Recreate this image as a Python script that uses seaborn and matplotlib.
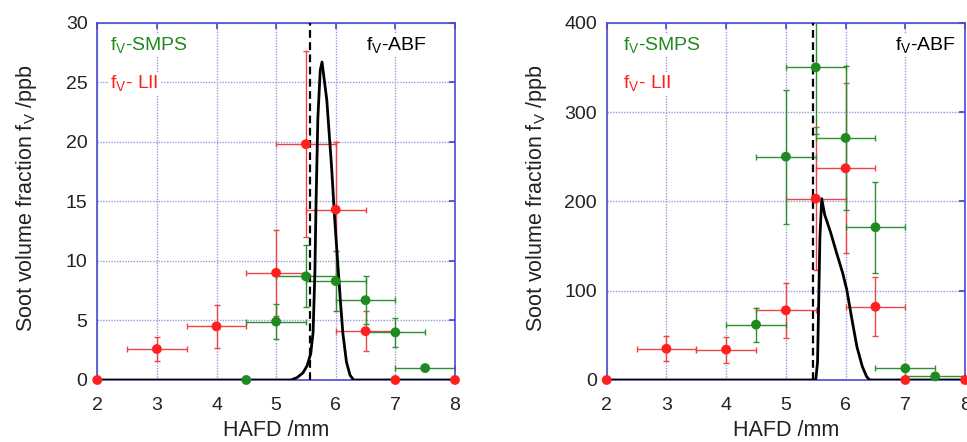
import matplotlib
matplotlib.use("Agg")
import matplotlib.pyplot as plt
import seaborn as sns
import numpy as np

# ---------------- data ----------------
# left panel
l_smps_x = [4.5, 5.0, 5.5, 6.0, 6.5, 7.0, 7.5]
l_smps_y = [0, 4.9, 8.7, 8.3, 6.7, 4.0, 1.0]
l_smps_yerr = [0, 1.5, 2.6, 2.5, 2.0, 1.2, 0]
l_smps_xerr = [0, 0.5, 0.5, 0.5, 0.5, 0.5, 0.5]

l_lii_x = [2, 3, 4, 5, 5.5, 6, 6.5, 7, 8]
l_lii_y = [0, 2.6, 4.5, 9.0, 19.8, 14.3, 4.1, 0, 0]
l_lii_yerr = [0, 1.0, 1.8, 3.6, 7.8, 5.7, 1.7, 0, 0]
l_lii_xerr = [0, 0.5, 0.5, 0.5, 0.5, 0.5, 0.5, 0, 0]

l_abf_x = [2.0, 5.25, 5.35, 5.45, 5.52, 5.58, 5.62, 5.65, 5.67, 5.70, 5.74, 5.77,
           5.80, 5.85, 5.93, 5.98, 6.02, 6.08, 6.12, 6.18, 6.24, 6.30, 8.0]
l_abf_y = [0, 0, 0.2, 0.6, 1.2, 2.2, 4.0, 9.0, 15.0, 22.0, 26.0, 26.7,
           25.5, 23.5, 17.9, 13.7, 10.8, 6.5, 3.9, 1.5, 0.4, 0, 0]
l_dash_x = 5.57

# right panel
r_smps_x = [4.5, 5.0, 5.5, 6.0, 6.5, 7.0, 7.5]
r_smps_y = [62, 250, 350, 271, 171, 13, 4]
r_smps_yerr = [19, 75, 75, 81, 51, 0, 0]
r_smps_xerr = [0.5, 0.5, 0.5, 0.5, 0.5, 0.5, 0.5]

r_lii_x = [2, 3, 4, 5, 5.5, 6, 6.5, 7, 8]
r_lii_y = [0, 35, 34, 78, 203, 237, 82, 0, 0]
r_lii_yerr = [0, 14, 14.5, 31, 80, 95, 33, 0, 0]
r_lii_xerr = [0, 0.5, 0.5, 0.5, 0.5, 0.5, 0.5, 0, 0]

r_abf_x = [2.0, 5.5, 5.53, 5.55, 5.57, 5.60, 5.65, 5.75, 5.85, 5.95, 6.02,
           6.10, 6.19, 6.28, 6.35, 6.40, 8.0]
r_abf_y = [0, 0, 20, 90, 160, 203, 185, 165, 142, 120, 101,
           70, 37, 15, 4, 0, 0]
r_dash_x = 5.46

xticks = [2, 3, 4, 5, 6, 7, 8]
l_yticks = [0, 5, 10, 15, 20, 25, 30]
r_yticks = [0, 100, 200, 300, 400]

# ---------------- style ----------------
sns.set_theme(style="white")
plt.rcParams["font.family"] = ["Liberation Sans", "DejaVu Sans"]
plt.rcParams["mathtext.default"] = "regular"

GREEN = "#1f8a1f"
RED = "#ff1f1f"
SPINE = "#4a4ad0"
GRID = "#9a9ae0"

fig = plt.figure(figsize=(9.67, 4.42), dpi=100)
axL = fig.add_axes([0.1006, 0.1403, 0.3699, 0.8083])
axR = fig.add_axes([0.6274, 0.1403, 0.3706, 0.8083])


def panel(ax, smps, lii, abf, dash_x, yticks, ymax, txt):
    sx, sy, syerr, sxerr = smps
    lx, ly, lyerr, lxerr = lii
    ax.set_xlim(2, 8)
    ax.set_ylim(0, ymax)
    ax.set_xticks(xticks)
    ax.set_yticks(yticks)
    ax.grid(True, color=GRID, linestyle=(0, (1, 1)), linewidth=1.0)
    ax.set_axisbelow(True)
    for s in ax.spines.values():
        s.set_color(SPINE)
        s.set_linewidth(1.2)
    ax.tick_params(direction="in", length=4, color=SPINE, top=True, right=True,
                   labelsize=14, labelcolor="#222222")
    ax.tick_params(axis="x", pad=12)
    ax.tick_params(axis="y", pad=7)

    ax.errorbar(lx, ly, yerr=lyerr, xerr=lxerr, fmt="none", ecolor="#ee4444",
                elinewidth=1.0, capsize=2.5, capthick=1.0, zorder=2)
    ax.errorbar(sx, sy, yerr=syerr, xerr=sxerr, fmt="none", ecolor="#2e8f2e",
                elinewidth=1.0, capsize=2.5, capthick=1.0, zorder=2)
    ax.axvline(dash_x, color="black", linestyle=(0, (3.5, 2)), linewidth=1.6, zorder=3)
    sns.lineplot(x=abf[0], y=abf[1], ax=ax, color="black", linewidth=2.0,
                 sort=False, estimator=None, zorder=4)
    sns.scatterplot(x=lx, y=ly, ax=ax, color=RED, s=50, edgecolor="none",
                    clip_on=False, zorder=6)
    sns.scatterplot(x=sx, y=sy, ax=ax, color=GREEN, s=50, edgecolor="none",
                    clip_on=False, zorder=6)

    bb = dict(facecolor="white", edgecolor="none", pad=1.0)
    ax.text(txt[0], txt[1], r"f$_{V}$-SMPS", color=GREEN, fontsize=14,
            va="center", ha="left", bbox=bb, zorder=7)
    ax.text(txt[0], txt[2], r"f$_{V}$- LII", color=RED, fontsize=14,
            va="center", ha="left", bbox=bb, zorder=7)
    ax.text(txt[3], txt[1], r"f$_{V}$-ABF", color="black", fontsize=14,
            va="center", ha="left", bbox=bb, zorder=7)

    ax.set_xlabel("HAFD /mm", fontsize=15.5, color="#222222")
    ax.set_ylabel(r"Soot volume fraction f$_{V}$ /ppb", fontsize=15.5,
                  color="#222222")
    ax.xaxis.set_label_coords(0.5, -0.112)
    ax.yaxis.set_label_coords(-0.162, 0.51)


panel(axL, (l_smps_x, l_smps_y, l_smps_yerr, l_smps_xerr),
      (l_lii_x, l_lii_y, l_lii_yerr, l_lii_xerr),
      (l_abf_x, l_abf_y), l_dash_x, l_yticks, 30, (2.22, 28.1, 24.9, 6.5))
panel(axR, (r_smps_x, r_smps_y, r_smps_yerr, r_smps_xerr),
      (r_lii_x, r_lii_y, r_lii_yerr, r_lii_xerr),
      (r_abf_x, r_abf_y), r_dash_x, r_yticks, 400, (2.27, 375, 332, 6.83))

fig.savefig("out.png", dpi=100)
